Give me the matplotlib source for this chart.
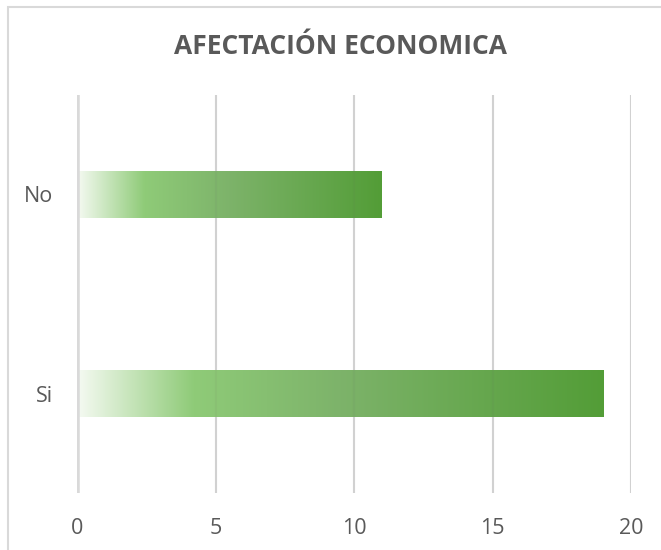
import matplotlib.pyplot as plt
import numpy as np
from matplotlib.colors import LinearSegmentedColormap
from matplotlib.patches import Rectangle

# data
categories = ["Si", "No"]
values = [19, 11]
x_ticks = [0, 5, 10, 15, 20]
title = "AFECTACIÓN ECONOMICA"

TEXT = "#595959"
GRID = "#d9d9d9"

plt.rcParams["font.family"] = ["Open Sans", "DejaVu Sans"]

green = LinearSegmentedColormap.from_list(
    "bar_green",
    [(0.0, "#f5faf2"), (0.22, "#8fcb78"), (0.5, "#7db36a"), (1.0, "#539d37")],
)

fig = plt.figure(figsize=(6.61, 5.5), dpi=100)
ax = fig.add_axes([77 / 661, 1 - 493 / 550, (631 - 77) / 661, (493 - 95) / 550])

# figure border (right/bottom edges fall outside the canvas)
fig.patches.append(Rectangle((8 / 661, -0.1), 1.2, 1 - 7 / 550 + 0.1,
                             transform=fig.transFigure, fill=False,
                             edgecolor=GRID, linewidth=1.5))

bar_h = 0.236
grad = np.linspace(0, 1, 256).reshape(1, -1)
for i, v in enumerate(values):
    ax.imshow(grad, cmap=green, aspect="auto", interpolation="bilinear",
              extent=[0, v, i - bar_h / 2, i + bar_h / 2], zorder=2)

ax.set_xlim(0, 20)
ax.set_ylim(-0.5, 1.5)
ax.set_xticks(x_ticks)
ax.set_yticks(range(len(categories)))
ax.set_yticklabels(categories)
ax.grid(axis="x", color=GRID, linewidth=1.5, zorder=1)
ax.set_axisbelow(True)
# faint overlay so the grid shows through the bars
for t in x_ticks[1:]:
    ax.axvline(t, color="#606060", alpha=0.06, linewidth=1.5, zorder=3)
ax.axvline(0, color=GRID, linewidth=4, zorder=3)
for s in ax.spines.values():
    s.set_visible(False)
ax.tick_params(axis="both", length=0, labelsize=15.5, labelcolor=TEXT)
ax.tick_params(axis="x", pad=18)
ax.tick_params(axis="y", pad=17)

fig.text(340 / 661, 1 - 46 / 550, title, ha="center", va="center",
         fontsize=19, fontweight="bold", color=TEXT)

fig.savefig("out.png", dpi=100)
